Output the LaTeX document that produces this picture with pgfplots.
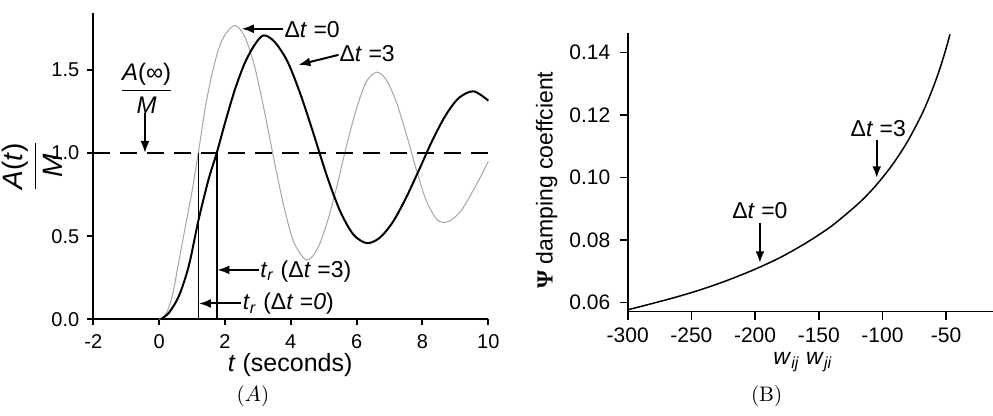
\documentclass[border=0pt]{standalone}
\usepackage{pgfplots}
\pgfplotsset{compat=1.18}
\usepackage{fontspec}
\usetikzlibrary{arrows.meta}
\newfontfamily\hv{Liberation Sans}
\newfontfamily\serifb{Liberation Serif}

\tikzset{
  lab/.style={font=\hv\fontsize{11.5}{13}\selectfont, inner sep=0pt},
  arr/.style={-{Latex[length=6pt,width=4.5pt]}, line width=1pt},
}

\begin{document}
\begin{tikzpicture}
\path[use as bounding box] (0,0) rectangle (496.5pt,208pt);

% (A) step response
\begin{axis}[
  at={(46.65pt,48.35pt)}, anchor=south west,
  scale only axis, width=197.5pt, height=153pt,
  xmin=-2, xmax=10, ymin=0, ymax=1.84,
  axis x line=bottom, axis y line=left,
  axis line style={-, line width=1.2pt},
  xtick={-2,0,2,4,6,8,10}, ytick={0,0.5,1,1.5},
  tick align=outside, major tick length=3pt,
  tick style={black, line width=1pt},
  /pgf/number format/assume math mode=true,
  ticklabel style={font=\hv\fontsize{10}{12}\selectfont, inner sep=0.5pt},
  xticklabel style={yshift=-4pt},
  yticklabel style={xshift=-3.3pt, /pgf/number format/fixed, /pgf/number format/fixed zerofill, /pgf/number format/precision=1},
  clip=false,
]
% dt = 0
\addplot[gray!70, line width=0.5pt, smooth] coordinates {
  (0,0) (0.2,0.03) (0.4,0.14) (0.6,0.35) (0.8,0.56) (1.0,0.77) (1.19,1.0)
  (1.4,1.27) (1.6,1.47) (1.8,1.62) (2.0,1.71) (2.3,1.767) (2.6,1.70)
  (2.9,1.52) (3.2,1.25) (3.5,0.95) (3.8,0.67) (4.1,0.46) (4.48,0.357)
  (4.8,0.42) (5.1,0.58) (5.4,0.80) (5.7,1.05) (6.0,1.27) (6.3,1.43)
  (6.61,1.486) (6.9,1.44) (7.2,1.31) (7.5,1.12) (7.8,0.91) (8.1,0.72)
  (8.4,0.61) (8.62,0.582) (8.9,0.60) (9.2,0.66) (9.5,0.76) (9.8,0.87) (10,0.95)};
% dt = 3
\addplot[black, line width=1pt, smooth] coordinates {
  (0.05,0) (0.3,0.04) (0.6,0.14) (0.9,0.32) (1.2,0.6) (1.5,0.84) (1.75,1.0)
  (2.0,1.18) (2.3,1.38) (2.6,1.54) (2.9,1.65) (3.17,1.707) (3.5,1.67)
  (3.9,1.55) (4.3,1.35) (4.7,1.11) (5.1,0.86) (5.5,0.65) (5.9,0.51)
  (6.31,0.458) (6.7,0.49) (7.1,0.585) (7.5,0.73) (7.9,0.90) (8.3,1.075)
  (8.7,1.225) (9.1,1.33) (9.55,1.371) (10,1.315)};
\addplot[black, line width=0.8pt, dash pattern=on 8.5pt off 5pt] coordinates {(-2,1) (10,1)};
\addplot[black, line width=0.8pt] coordinates {(1.19,0) (1.19,1)};
\addplot[black, line width=0.8pt] coordinates {(1.75,0) (1.75,1)};

\node[lab, anchor=west] at (axis cs:3.8,1.745) {Δ\textit{t} =0};
\draw[arr] (axis cs:3.77,1.747) -- (axis cs:2.51,1.747);
\node[lab, anchor=west] at (axis cs:5.47,1.6) {Δ\textit{t} =3};
\draw[arr] (axis cs:5.45,1.59) -- (axis cs:4.23,1.53);
\node[lab, anchor=west] at (axis cs:3.06,0.29) {\textit{t}\textsubscript{\textit{r}} (Δ\textit{t} =3)};
\draw[arr] (axis cs:3.04,0.297) -- (axis cs:1.77,0.297);
\node[lab, anchor=west] at (axis cs:2.53,0.092) {\textit{t}\textsubscript{\textit{r}} (Δ\textit{t} =\textit{0})};
\draw[arr] (axis cs:2.49,0.095) -- (axis cs:1.21,0.095);
\node[font=\hv\fontsize{12}{14}\selectfont] at (axis cs:-0.38,1.39)
  {$\displaystyle\frac{\hbox{\textit{A}(∞)}}{\hbox{\textit{M}}}$};
\draw[arr] (axis cs:-0.43,1.24) -- (axis cs:-0.43,1.0);

\node[rotate=90, font=\hv\fontsize{14}{16}\selectfont] at (axis cs:-3.85,0.92)
  {$\displaystyle\frac{\hbox{\textit{A}(\textit{t})}}{\hbox{\textit{M}}}$};
\node[inner sep=0pt, font=\hv\fontsize{12.5}{15}\selectfont] at (axis cs:3.98,-0.275) {\textit{t} (seconds)};
\node[font=\rmfamily\fontsize{10.5}{12}\selectfont] at (axis cs:2.85,-0.46) {($A$)};
\end{axis}

% (B) damping coefficient
\begin{axis}[
  at={(313.85pt,52.15pt)}, anchor=south west,
  scale only axis, width=182.8pt, height=139.2pt,
  xmin=-300, xmax=-13, ymin=0.0571, ymax=0.1462,
  axis x line=bottom, axis y line=left,
  axis line style={-, line width=0.8pt},
  xtick={-300,-250,-200,-150,-100,-50},
  ytick={0.06,0.08,0.10,0.12,0.14},
  tick align=outside, major tick length=4pt,
  tick style={black, line width=0.8pt},
  /pgf/number format/assume math mode=true,
  ticklabel style={font=\hv\fontsize{10.5}{12}\selectfont, inner sep=0.5pt},
  xticklabel style={yshift=-3.5pt},
  yticklabel style={xshift=-4pt, /pgf/number format/fixed, /pgf/number format/fixed zerofill, /pgf/number format/precision=2},
  scaled y ticks=false,
  clip=false,
]
\addplot[black, line width=0.75pt, smooth] coordinates {
  (-300,0.0577) (-280,0.0598) (-260,0.0620) (-240,0.0645) (-220,0.0674)
  (-200,0.0707) (-180,0.0745) (-160,0.0791) (-140,0.0845) (-120,0.0913)
  (-110,0.0953) (-100,0.1000) (-90,0.1054) (-80,0.1118) (-70,0.1195)
  (-65,0.1240) (-60,0.1291) (-55,0.1348) (-50,0.1414) (-47,0.1459)};

\node[lab] at (axis cs:-103.3,0.1158) {Δ\textit{t} =3};
\draw[arr, line width=1.2pt] (axis cs:-104.5,0.1120) -- (axis cs:-104.5,0.0998);
\node[lab] at (axis cs:-196.2,0.0896) {Δ\textit{t} =0};
\draw[arr, line width=1.2pt] (axis cs:-196.2,0.0854) -- (axis cs:-196.2,0.0726);

\node[rotate=90, font=\hv\fontsize{11.5}{13}\selectfont] at (axis cs:-363.6,0.0992)
  {{\serifb\bfseries Ψ} damping coeffcient};
\node[inner sep=0pt, font=\hv\fontsize{11.5}{13}\selectfont] at (axis cs:-162.4,0.0410)
  {\textit{w}\textsubscript{\textit{ij}} \textit{w}\textsubscript{\textit{ji}}};
\node[font=\rmfamily\fontsize{10.5}{12}\selectfont] at (axis cs:-190.9,0.0300) {(B)};
\end{axis}
\end{tikzpicture}
\end{document}
